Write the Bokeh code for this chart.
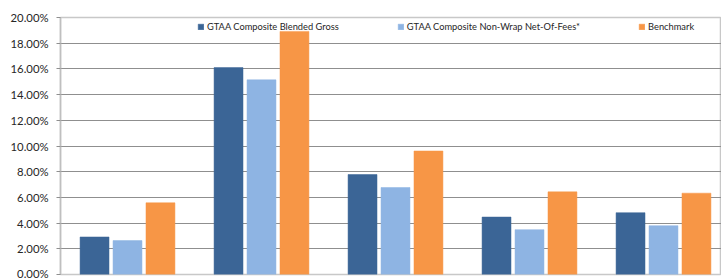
from bokeh.plotting import figure
from bokeh.models import ColumnDataSource, Range1d, FixedTicker, PrintfTickFormatter, Legend, LegendItem
from bokeh.embed import file_html
from bokeh.resources import INLINE

# ---- data ----
categories = ["Period 1", "Period 2", "Period 3", "Period 4", "Period 5"]
series_names = ["GTAA Composite Blended Gross", "GTAA Composite Non-Wrap Net-Of-Fees*", "Benchmark"]
blended_gross = [2.92, 16.10, 7.78, 4.47, 4.81]
non_wrap_net = [2.64, 15.15, 6.77, 3.49, 3.80]
benchmark = [5.58, 18.92, 9.61, 6.43, 6.33]
y_ticks = [0, 2, 4, 6, 8, 10, 12, 14, 16, 18, 20]

colors = ["#3B6596", "#8EB4E3", "#F79646"]
series = [blended_gross, non_wrap_net, benchmark]

W, H = 721, 279
p = figure(width=W, height=H, output_backend="svg", toolbar_location=None,
           x_range=Range1d(-0.5, -0.5 + 661 / 134), y_range=Range1d(0, 20),
           min_border_left=60, min_border_right=0, min_border_top=17, min_border_bottom=5)

idx = list(range(len(categories)))
offsets = [-0.246, 0.0, 0.246]
renderers = []
for vals, off, col in zip(series, offsets, colors):
    src = ColumnDataSource(dict(x=[i + off for i in idx], top=vals, cat=categories))
    r = p.vbar(x="x", top="top", bottom=0, width=0.216, source=src,
               fill_color=col, line_color=col, line_width=0.5)
    renderers.append(r)

p.xaxis.visible = False
p.xgrid.visible = False
p.ygrid.ticker = FixedTicker(ticks=y_ticks)
p.ygrid.grid_line_color = "#8f8f8f"
p.ygrid.grid_line_width = 1

ax = p.yaxis[0]
ax.ticker = FixedTicker(ticks=y_ticks)
ax.formatter = PrintfTickFormatter(format="%.2f%%")
ax.axis_line_color = "#bfbfbf"
ax.axis_line_width = 1.5
ax.major_tick_line_color = "#8f8f8f"
ax.major_tick_out = 4
ax.major_tick_in = 0
ax.minor_tick_line_color = None
ax.major_label_text_font = "Lato"
ax.major_label_text_font_size = "11.3px"
ax.major_label_text_color = "#262626"
ax.major_label_standoff = 8

p.outline_line_color = "#c8c8c8"
p.outline_line_width = 1.5
p.background_fill_color = "white"
p.border_fill_color = "white"

legend = Legend(items=[LegendItem(label=n, renderers=[r]) for n, r in zip(series_names, renderers)],
                orientation="horizontal", location=(137, 242), padding=0, margin=0, spacing=58,
                glyph_width=7, glyph_height=7, label_height=10, label_standoff=3,
                label_text_font="Lato", label_text_font_size="9.3px", label_text_color="#262626",
                border_line_color=None, background_fill_alpha=0)
p.add_layout(legend)

open("out.html", "w").write(file_html(p, INLINE))
